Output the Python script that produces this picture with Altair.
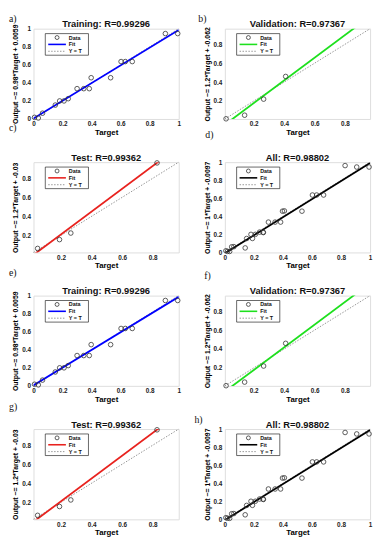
import altair as alt
import pandas as pd

# ---------------- data ----------------
letters = ["a)", "b)", "c)", "d)", "e)", "f)", "g)", "h)"]
panel_kinds = ["Training", "Validation", "Test", "All", "Training", "Validation", "Test", "All"]

train_target = [0.007, 0.033, 0.062, 0.15, 0.18, 0.21, 0.239, 0.30, 0.346, 0.384, 0.397, 0.531, 0.603, 0.632, 0.68, 0.908, 0.993]
train_output = [0.018, 0.011, 0.064, 0.154, 0.20, 0.20, 0.225, 0.336, 0.336, 0.336, 0.457, 0.457, 0.636, 0.636, 0.636, 0.946, 0.946]

val_target = [0.018, 0.14, 0.265, 0.41]
val_output = [0.012, 0.05, 0.22, 0.46]

test_target = [0.047, 0.19, 0.264, 0.828]
test_output = [0.062, 0.155, 0.224, 0.962]

r_values = {"Training": "0.99296", "Validation": "0.97367", "Test": "0.99362", "All": "0.98802"}
fit_slope = {"Training": 0.98, "Validation": 1.2, "Test": 1.2, "All": 1.0}
fit_intercept = {"Training": 0.0059, "Validation": -0.062, "Test": -0.03, "All": -0.0097}
y_titles = {
    "Training": "Output ~= 0.98*Target + 0.0059",
    "Validation": "Output ~= 1.2*Target + -0.062",
    "Test": "Output ~= 1.2*Target + -0.03",
    "All": "Output ~= 1*Target + -0.0097",
}
domains = {"Training": [0.0, 1.0], "Validation": [0.01, 0.965], "Test": [0.02, 0.97], "All": [0.0, 1.0]}
ticks_full = [0, 0.2, 0.4, 0.6, 0.8, 1]
ticks_inner = [0.2, 0.4, 0.6, 0.8]
tick_values = {"Training": ticks_full, "Validation": ticks_inner, "Test": ticks_inner, "All": ticks_full}
fit_colors = {"Training": "#0000ff", "Validation": "#1ee01e", "Test": "#e8221e", "All": "#000000"}
legend_labels = ["Data", "Fit", "Y = T"]

series = {
    "Training": (train_target, train_output),
    "Validation": (val_target, val_output),
    "Test": (test_target, test_output),
    "All": (train_target + val_target + test_target, train_output + val_output + test_output),
}

# letter label offsets (relative to plot area), per panel
letter_pos = [(-25, -10), (-27, -10), (-25, -35), (-20, -28),
              (-25, -23), (-21, -20), (-25, -22), (-31, -9)]

FONT = "Liberation Sans"
W, H = 148, 92
dummy = pd.DataFrame({"k": [0]})


def panel(i):
    kind = panel_kinds[i]
    t, o = series[kind]
    lo, hi = domains[kind]
    a, b = fit_slope[kind], fit_intercept[kind]
    ticks = tick_values[kind]

    xs = alt.Scale(domain=[lo, hi], nice=False, zero=False)
    ys = alt.Scale(domain=[lo, hi], nice=False, zero=False)
    xaxis = alt.Axis(title="Target", values=ticks, format="~g", grid=False, ticks=False,
                     domain=False, labelFont=FONT, labelFontSize=6.5, labelFontWeight="bold",
                     labelColor="#222", labelPadding=2, titleFont=FONT, titleFontSize=8,
                     titleFontWeight="bold", titlePadding=1, labelFlush=False)
    yaxis = alt.Axis(title=y_titles[kind], values=ticks, format="~g", grid=False, ticks=False,
                     domain=False, labelFont=FONT, labelFontSize=6.5, labelFontWeight="bold",
                     labelColor="#222", labelPadding=3, titleFont=FONT, titleFontSize=7,
                     titleFontWeight="bold", titlePadding=3, labelFlush=False)
    X = alt.X("Target:Q", scale=xs, axis=xaxis)
    Y = alt.Y("Output:Q", scale=ys, axis=yaxis)

    pts = pd.DataFrame({"Target": t, "Output": o})
    fit_df = pd.DataFrame({"Target": [lo, hi], "Output": [a * lo + b, a * hi + b]})
    id_df = pd.DataFrame({"Target": [lo, hi], "Output": [lo, hi]})

    ident = alt.Chart(id_df).mark_line(color="#8a8a8a", strokeWidth=0.9, strokeDash=[1.5, 1.5]).encode(x=X, y=Y)
    fit = alt.Chart(fit_df).mark_line(color=fit_colors[kind], strokeWidth=1.8, clip=True).encode(x=X, y=Y)
    points = alt.Chart(pts).mark_point(shape="circle", filled=False, size=22, color="#333",
                                       strokeWidth=0.8, opacity=1).encode(x=X, y=Y)

    # hand-drawn legend box (MATLAB style)
    lx0, lx1, ly0, ly1 = 12, 56, 5, 27
    box = alt.Chart(dummy).mark_rect(fill="white", stroke="#000", strokeWidth=0.6).encode(
        x=alt.value(lx0), x2=alt.value(lx1), y=alt.value(ly0), y2=alt.value(ly1))
    rows_y = [9, 16, 23]
    leg_pt = alt.Chart(dummy).mark_point(shape="circle", filled=False, size=16, color="#333",
                                         strokeWidth=0.8, opacity=1).encode(
        x=alt.value(24), y=alt.value(rows_y[0]))
    leg_fit = alt.Chart(dummy).mark_rule(color=fit_colors[kind], strokeWidth=1.6).encode(
        x=alt.value(15), x2=alt.value(33), y=alt.value(rows_y[1]))
    leg_id = alt.Chart(dummy).mark_rule(color="#8a8a8a", strokeWidth=0.9, strokeDash=[1.5, 1.5]).encode(
        x=alt.value(15), x2=alt.value(33), y=alt.value(rows_y[2]))
    leg_txt = [
        alt.Chart(dummy).mark_text(font=FONT, fontSize=5.5, fontWeight="bold", align="left",
                                   baseline="middle", color="#111").encode(
            x=alt.value(36), y=alt.value(rows_y[k]), text=alt.value(legend_labels[k]))
        for k in range(3)
    ]
    lxp, lyp = letter_pos[i]
    letter = alt.Chart(dummy).mark_text(font="Liberation Serif", fontSize=10, align="left",
                                        baseline="middle", color="#111").encode(
        x=alt.value(lxp), y=alt.value(lyp), text=alt.value(letters[i]))
    title = alt.Chart(dummy).mark_text(font=FONT, fontSize=9.5, fontWeight="bold", align="center",
                                       baseline="alphabetic", color="#111").encode(
        x=alt.value(W / 2), y=alt.value(-1.5), text=alt.value(f"{kind}: R={r_values[kind]}"))

    return alt.layer(ident, fit, points, box, leg_pt, leg_fit, leg_id, *leg_txt, letter, title).properties(
        width=W, height=H)


panels = [panel(i) for i in range(8)]
chart = alt.concat(*panels, columns=2, spacing={"row": 44, "column": 47}, bounds="flush").properties(
    padding={"left": 0, "top": 0, "right": 0, "bottom": 0}
).configure_view(stroke="#000", strokeWidth=0.8).configure(background="white")

chart.save("out.html", embed_options={"renderer": "svg", "actions": False})
